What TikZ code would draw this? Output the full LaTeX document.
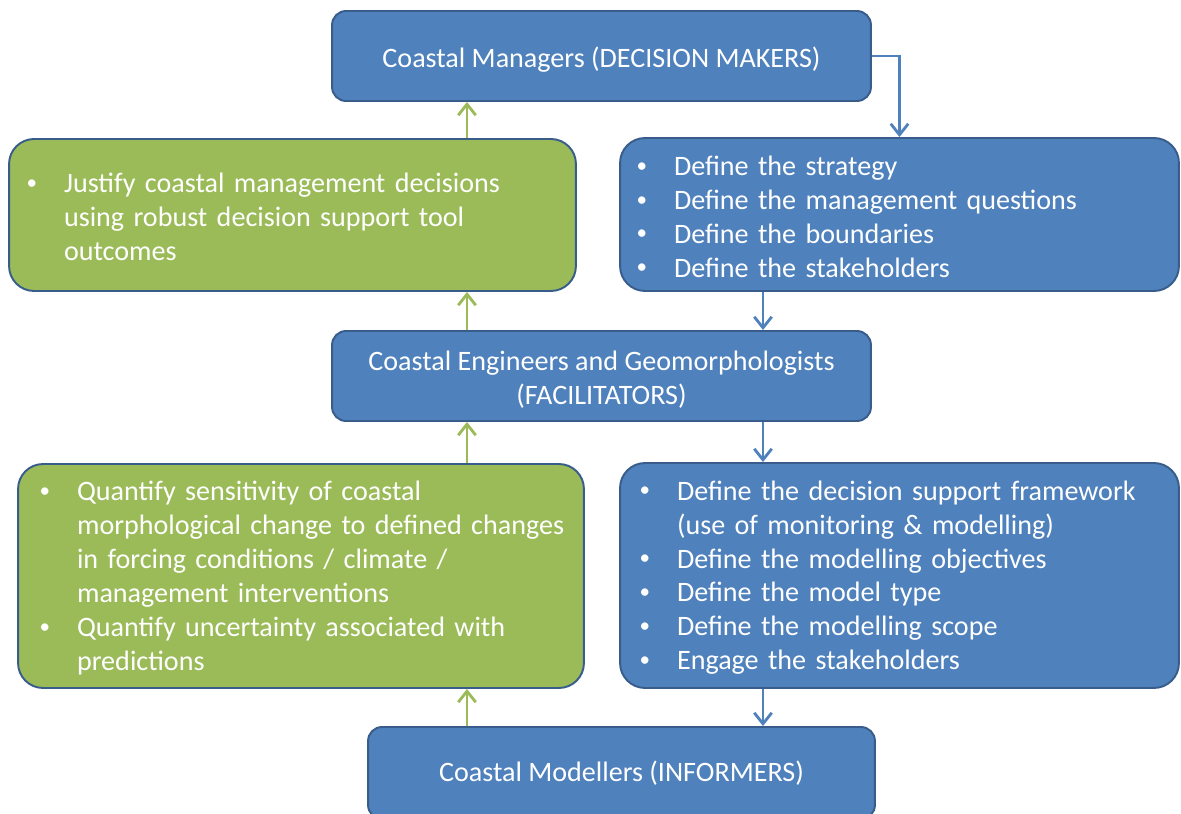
\documentclass[tikz,border=0pt]{standalone}
\usepackage{fontspec}
\setmainfont{Carlito}
\usetikzlibrary{arrows.meta,positioning}
\definecolor{rolefill}{RGB}{79,129,189}
\definecolor{roledraw}{RGB}{56,93,138}
\definecolor{outfill}{RGB}{155,187,89}
\newlength{\bulind}
\setlength{\bulind}{0.72cm}
\newcommand{\nl}{\hfil\break}
\newcommand{\tallstrut}{\rule{0pt}{15.4pt}}
\newcommand{\itm}[1]{\par\noindent\hangindent=\bulind\hangafter=1\rightskip=-1cm plus 1fil%
  \makebox[\bulind][l]{\hspace{-0.03cm}\raisebox{0.12em}{\fontsize{12}{12}\selectfont\textbullet}}#1\par}
\tikzset{
  rolebox/.style={rectangle, draw=roledraw, line width=1.1pt, fill=rolefill, rounded corners=0.28cm, minimum width=10.78cm, minimum height=1.8cm, align=center, text=white, font=\fontsize{16}{19.3}\selectfont},
  taskbox/.style={rectangle, draw=roledraw, line width=1.1pt, fill=rolefill, rounded corners=0.5cm, inner sep=0pt, text=white, font=\fontsize{16}{19.3}\selectfont, execute at end node={\par\vspace{0.2cm}}},
  outbox/.style={taskbox, fill=outfill},
  downflow/.style={draw=rolefill, line width=1.6pt, -{Straight Barb[length=2.2mm,width=3.5mm]}},
  upflow/.style={downflow, draw=outfill}
}

\begin{document}
\begin{tikzpicture}[x=0.02cm, y=-0.02cm]
\useasboundingbox (0,0) rectangle (1181,814);
\fill[white] (0,0) rectangle (1181,814);
\clip (0,0) rectangle (1181,814);

\node[rolebox] (managers) at (601.5,56) {\tallstrut Coastal Managers (DECISION MAKERS)};

\node[outbox, minimum width=11.34cm, minimum height=3.04cm, text width=10.58cm] (justify) at (292.5,215) {%
  \itm{Justify coastal management decisions\nl using robust decision support tool\nl outcomes}};

\node[taskbox, minimum width=11.18cm, minimum height=3.06cm, text width=10.46cm] (define) at (899.5,214.5) {%
  \itm{Define the strategy}
  \itm{Define the management questions}
  \itm{Define the boundaries}
  \itm{Define the stakeholders}};

\node[rolebox] (engineers) at (601.5,376) {\tallstrut Coastal Engineers and Geomorphologists\\(FACILITATORS)};

\node[outbox, minimum width=11.32cm, minimum height=4.48cm, text width=10.40cm] (quantify) at (301,576) {%
  \itm{Quantify sensitivity of coastal\nl morphological change to defined changes\nl in forcing conditions / climate /\nl management interventions}
  \itm{Quantify uncertainty associated with\nl predictions}};

\node[taskbox, minimum width=11.18cm, minimum height=4.5cm, text width=10.34cm] (framework) at (899.5,575.5) {%
  \itm{Define the decision support framework\nl (use of monitoring \& modelling)}
  \itm{Define the modelling objectives}
  \itm{Define the model type}
  \itm{Define the modelling scope}
  \itm{Engage the stakeholders}};

\node[rolebox, minimum width=10.14cm, minimum height=1.84cm] (modellers) at (621.5,773) {Coastal Modellers (INFORMERS)};

% feedback goes up on the left, instructions come down on the right
\coordinate (upx) at (467,0);
\coordinate (downx) at (763,0);
\draw[upflow] (justify.north -| upx) -- (managers.south -| upx);
\draw[upflow] (engineers.north -| upx) -- (justify.south -| upx);
\draw[upflow] (quantify.north -| upx) -- (engineers.south -| upx);
\draw[upflow] (modellers.north -| upx) -- (quantify.south -| upx);
\draw[downflow] (managers.east) -| (define.north);
\draw[downflow] (define.south -| downx) -- (engineers.north -| downx);
\draw[downflow] (engineers.south -| downx) -- (framework.north -| downx);
\draw[downflow] (framework.south -| downx) -- (modellers.north -| downx);

\end{tikzpicture}
\end{document}
